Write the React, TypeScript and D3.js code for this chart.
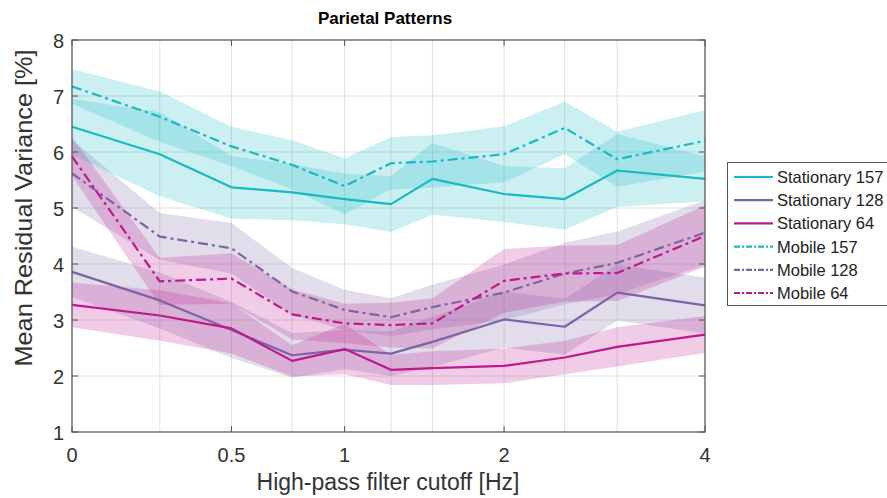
import React, { useEffect, useRef } from 'react';
import * as d3 from 'd3';

// cutoff frequencies (Hz) where the residual variance was evaluated
const cutoffs = [0, 0.25, 0.5, 0.75, 1, 1.25, 1.5, 2, 2.5, 3, 4];
const xTicks = [0, 0.5, 1, 2, 4];
const yTicks = [1, 2, 3, 4, 5, 6, 7, 8];

const stationary157 = [6.45, 5.96, 5.37, 5.28, 5.16, 5.07, 5.52, 5.25, 5.16, 5.67, 5.52];
const stationary157Err = [0.5, 0.75, 0.56, 0.5, 0.45, 0.5, 0.64, 0.5, 0.55, 0.65, 0.4];
const stationary128 = [3.86, 3.35, 2.82, 2.37, 2.47, 2.4, 2.61, 3.01, 2.88, 3.49, 3.26];
const stationary128Err = [0.45, 0.5, 0.5, 0.4, 0.35, 0.4, 0.45, 0.5, 0.5, 0.5, 0.5];
const stationary64 = [3.27, 3.08, 2.85, 2.27, 2.48, 2.11, 2.14, 2.18, 2.33, 2.52, 2.74];
const stationary64Err = [0.4, 0.45, 0.45, 0.28, 0.45, 0.27, 0.3, 0.31, 0.3, 0.35, 0.33];
const mobile157 = [7.17, 6.63, 6.1, 5.77, 5.39, 5.8, 5.83, 5.96, 6.43, 5.87, 6.2];
const mobile157Err = [0.31, 0.45, 0.35, 0.44, 0.5, 0.47, 0.47, 0.5, 0.47, 0.49, 0.55];
const mobile128 = [5.62, 4.49, 4.28, 3.51, 3.18, 3.05, 3.23, 3.49, 3.83, 4.02, 4.56];
const mobile128Err = [0.6, 0.42, 0.45, 0.42, 0.36, 0.34, 0.4, 0.5, 0.55, 0.56, 0.58];
const mobile64 = [5.92, 3.69, 3.74, 3.1, 2.94, 2.91, 2.94, 3.7, 3.83, 3.84, 4.5];
const mobile64Err = [0.35, 0.42, 0.45, 0.45, 0.35, 0.4, 0.45, 0.57, 0.5, 0.5, 0.55];

const labels = ['Stationary 157', 'Stationary 128', 'Stationary 64', 'Mobile 157', 'Mobile 128', 'Mobile 64'];

const CYAN = '#17b9c5';
const PURPLE = '#7d63a6';
const MAGENTA = '#c0178e';
const DASHDOT = '10,4,3,4';

const series = [
  { name: labels[0], mean: stationary157, err: stationary157Err, color: CYAN, dash: null },
  { name: labels[1], mean: stationary128, err: stationary128Err, color: PURPLE, dash: null },
  { name: labels[2], mean: stationary64, err: stationary64Err, color: MAGENTA, dash: null },
  { name: labels[3], mean: mobile157, err: mobile157Err, color: CYAN, dash: DASHDOT },
  { name: labels[4], mean: mobile128, err: mobile128Err, color: PURPLE, dash: DASHDOT },
  { name: labels[5], mean: mobile64, err: mobile64Err, color: MAGENTA, dash: DASHDOT },
];

const FONT = '"Liberation Sans", Arial, Helvetica, sans-serif';

export default function App() {
  const ref = useRef<SVGSVGElement>(null);

  useEffect(() => {
    const svg = d3.select(ref.current);
    svg.selectAll('*').remove();

    const left = 72;
    const right = 705;
    const top = 40;
    const bottom = 432;

    // x axis is log(1 + f)
    const x = d3.scaleSymlog().constant(1).domain([0, 4]).range([left, right]);
    const y = d3.scaleLinear().domain([1, 8]).range([bottom, top]);

    // grid
    const grid = svg.append('g');
    grid.selectAll('line.vx')
      .data(cutoffs)
      .enter()
      .append('line')
      .attr('x1', (d) => x(d))
      .attr('x2', (d) => x(d))
      .attr('y1', top)
      .attr('y2', bottom)
      .attr('stroke', '#e0e0e0')
      .attr('stroke-width', 1);
    grid.selectAll('line.hy')
      .data(yTicks)
      .enter()
      .append('line')
      .attr('x1', left)
      .attr('x2', right)
      .attr('y1', (d) => y(d))
      .attr('y2', (d) => y(d))
      .attr('stroke', '#e0e0e0')
      .attr('stroke-width', 1);

    // shaded bands (mean +/- err)
    series.forEach((s) => {
      const area = d3.area<number>()
        .x((_, i) => x(cutoffs[i]))
        .y0((d, i) => y(d - s.err[i]))
        .y1((d, i) => y(d + s.err[i]));
      svg.append('path')
        .datum(s.mean)
        .attr('d', area)
        .attr('fill', s.color)
        .attr('fill-opacity', 0.22)
        .attr('stroke', 'none');
    });

    // lines
    const line = d3.line<number>()
      .x((_, i) => x(cutoffs[i]))
      .y((d) => y(d));

    series.forEach((s) => {
      svg.append('path')
        .datum(s.mean)
        .attr('d', line)
        .attr('fill', 'none')
        .attr('stroke', s.color)
        .attr('stroke-width', 2.2)
        .attr('stroke-dasharray', s.dash)
        .attr('stroke-linejoin', 'round');
    });

    // axes box with inward ticks
    svg.append('rect')
      .attr('x', left)
      .attr('y', top)
      .attr('width', right - left)
      .attr('height', bottom - top)
      .attr('fill', 'none')
      .attr('stroke', '#555')
      .attr('stroke-width', 1.2);

    const tickLen = 6;
    xTicks.forEach((t) => {
      svg.append('line').attr('x1', x(t)).attr('x2', x(t)).attr('y1', bottom).attr('y2', bottom - tickLen).attr('stroke', '#555');
      svg.append('line').attr('x1', x(t)).attr('x2', x(t)).attr('y1', top).attr('y2', top + tickLen).attr('stroke', '#555');
    });
    yTicks.forEach((t) => {
      svg.append('line').attr('x1', left).attr('x2', left + tickLen).attr('y1', y(t)).attr('y2', y(t)).attr('stroke', '#555');
      svg.append('line').attr('x1', right).attr('x2', right - tickLen).attr('y1', y(t)).attr('y2', y(t)).attr('stroke', '#555');
    });

    svg.append('g')
      .selectAll('text')
      .data(xTicks)
      .enter()
      .append('text')
      .attr('x', (d) => x(d))
      .attr('y', 462)
      .attr('text-anchor', 'middle')
      .attr('font-size', 20)
      .attr('fill', '#333')
      .text((d) => `${d}`);

    svg.append('g')
      .selectAll('text')
      .data(yTicks)
      .enter()
      .append('text')
      .attr('x', 64)
      .attr('y', (d) => y(d) + 8)
      .attr('text-anchor', 'end')
      .attr('font-size', 20)
      .attr('fill', '#333')
      .text((d) => `${d}`);

    svg.append('text')
      .attr('x', 385)
      .attr('y', 24)
      .attr('text-anchor', 'middle')
      .attr('font-size', 17)
      .attr('font-weight', 'bold')
      .attr('fill', '#000')
      .text('Parietal Patterns');

    svg.append('text')
      .attr('x', 388)
      .attr('y', 490)
      .attr('text-anchor', 'middle')
      .attr('font-size', 23)
      .attr('fill', '#333')
      .text('High-pass filter cutoff [Hz]');

    svg.append('text')
      .attr('transform', 'translate(32, 208) rotate(-90)')
      .attr('text-anchor', 'middle')
      .attr('font-size', 24)
      .attr('textLength', 317)
      .attr('lengthAdjust', 'spacingAndGlyphs')
      .attr('fill', '#333')
      .text('Mean Residual Variance [%]');

    // legend
    const lg = svg.append('g').attr('transform', 'translate(727, 162)');
    lg.append('rect')
      .attr('x', 0.5)
      .attr('y', 0.5)
      .attr('width', 200)
      .attr('height', 143)
      .attr('fill', '#fff')
      .attr('stroke', '#555');
    series.forEach((s, i) => {
      const yy = 15 + i * 23.2;
      lg.append('line')
        .attr('x1', 7)
        .attr('x2', 46)
        .attr('y1', yy)
        .attr('y2', yy)
        .attr('stroke', s.color)
        .attr('stroke-width', 2.2)
        .attr('stroke-dasharray', s.dash ? '6,2,2,2' : null);
      lg.append('text')
        .attr('x', 50)
        .attr('y', yy + 6)
        .attr('font-size', 16.5)
        .attr('fill', '#222')
        .text(s.name);
    });
  }, []);

  return (
    <svg
      ref={ref}
      width={887}
      height={498}
      style={{ position: 'absolute', left: 0, top: 0, background: '#fff', fontFamily: FONT }}
    />
  );
}
